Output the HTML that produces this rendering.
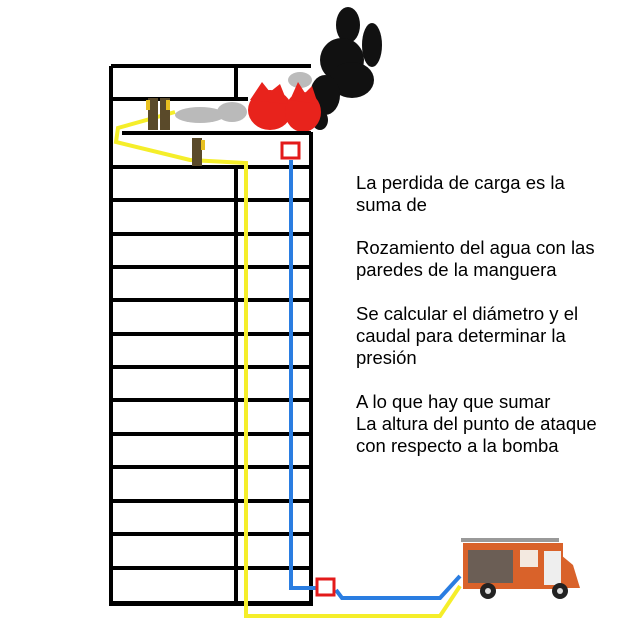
<!DOCTYPE html>
<html><head><meta charset="utf-8"><style>
html,body{margin:0;padding:0;background:#fff;}
.t{position:absolute;left:356px;font-family:"Liberation Sans",Arial,sans-serif;font-size:18.5px;color:#000;white-space:nowrap;}
</style></head><body>
<div style="position:relative;width:622px;height:640px;overflow:hidden;">
<svg width="622" height="640" style="position:absolute;left:0;top:0">
<!-- smoke -->
<g fill="#111">
<ellipse cx="348" cy="25" rx="12" ry="18"/>
<ellipse cx="372" cy="45" rx="10" ry="22"/>
<ellipse cx="342" cy="60" rx="22" ry="22"/>
<ellipse cx="352" cy="80" rx="22" ry="18"/>
<ellipse cx="325" cy="95" rx="15" ry="20"/>
<ellipse cx="320" cy="120" rx="8" ry="10"/>
</g>
<g fill="#aaa" opacity="0.8">
<ellipse cx="200" cy="115" rx="25" ry="8"/>
<ellipse cx="232" cy="112" rx="15" ry="10"/>
<ellipse cx="300" cy="80" rx="12" ry="8"/>
</g>
<!-- fire -->
<g fill="#e8231c">
<ellipse cx="270" cy="110" rx="22" ry="20"/>
<ellipse cx="303" cy="112" rx="18" ry="20"/>
<polygon points="250,100 262,82 270,92 280,84 288,104"/>
<polygon points="290,100 298,82 305,93 312,86 318,104"/>
</g>
<!-- building -->
<g stroke="#000" stroke-width="4" fill="none">
<path d="M111,66 L311,66 M111,66 L111,604 L311,604 L311,132"/>
<line x1="236" y1="66" x2="236" y2="99"/>
<line x1="111" y1="99" x2="248" y2="99"/>
<line x1="122" y1="133" x2="311" y2="133"/>
<line x1="236" y1="167" x2="236" y2="604"/>
</g>
<g stroke="#000" stroke-width="4">
<line x1="111" y1="167" x2="311" y2="167"/>
<line x1="111" y1="200" x2="311" y2="200"/>
<line x1="111" y1="234" x2="311" y2="234"/>
<line x1="111" y1="267" x2="311" y2="267"/>
<line x1="111" y1="300" x2="311" y2="300"/>
<line x1="111" y1="334" x2="311" y2="334"/>
<line x1="111" y1="367" x2="311" y2="367"/>
<line x1="111" y1="400" x2="311" y2="400"/>
<line x1="111" y1="434" x2="311" y2="434"/>
<line x1="111" y1="467" x2="311" y2="467"/>
<line x1="111" y1="501" x2="311" y2="501"/>
<line x1="111" y1="534" x2="311" y2="534"/>
<line x1="111" y1="568" x2="311" y2="568"/>
</g>
<rect x="109" y="601" width="204" height="5" fill="#000"/>
<!-- hoses -->
<polyline points="175,112 118,128 116,142 190,160 246,163 246,616 440,616 460,586" stroke="#f5ee2a" stroke-width="4" fill="none"/>
<polyline points="291,160 291,588 318,588" stroke="#2a7de1" stroke-width="4" fill="none"/>
<polyline points="336,590 342,598 440,598 460,576" stroke="#2a7de1" stroke-width="4" fill="none"/>
<rect x="282" y="143" width="17" height="15" stroke="#e31a1a" stroke-width="3" fill="#fff"/>
<rect x="317" y="579" width="17" height="16" stroke="#e31a1a" stroke-width="3" fill="#fff"/>
<!-- firefighters -->
<g fill="#5a4a2a">
<rect x="148" y="98" width="10" height="32"/>
<rect x="160" y="98" width="10" height="32"/>
<rect x="192" y="138" width="10" height="28"/>
</g>
<g fill="#e8c020"><rect x="146" y="100" width="4" height="10"/><rect x="166" y="100" width="4" height="10"/><rect x="201" y="140" width="4" height="10"/></g>
<!-- truck -->
<rect x="461" y="538" width="98" height="4" fill="#999"/>
<rect x="463" y="543" width="100" height="46" fill="#d9622a"/>
<rect x="468" y="550" width="45" height="33" fill="#6b5e55"/>
<rect x="520" y="550" width="18" height="17" fill="#f3e9e0"/>
<rect x="544" y="551" width="17" height="34" fill="#eee"/>
<polygon points="561,555 573,565 580,588 561,588" fill="#d9622a"/>
<circle cx="488" cy="591" r="8" fill="#222"/><circle cx="488" cy="591" r="3" fill="#ddd"/>
<circle cx="560" cy="591" r="8" fill="#222"/><circle cx="560" cy="591" r="3" fill="#ddd"/>
</svg>
<div class="t" style="top:172px">La perdida de carga es la</div>
<div class="t" style="top:194px">suma de</div>
<div class="t" style="top:237px">Rozamiento del agua con las</div>
<div class="t" style="top:259px">paredes de la manguera</div>
<div class="t" style="top:303px">Se calcular el diámetro y el</div>
<div class="t" style="top:325px">caudal para determinar la</div>
<div class="t" style="top:347px">presión</div>
<div class="t" style="top:391px">A lo que hay que sumar</div>
<div class="t" style="top:413px">La altura del punto de ataque</div>
<div class="t" style="top:435px">con respecto a la bomba</div>
</div>
</body></html>
